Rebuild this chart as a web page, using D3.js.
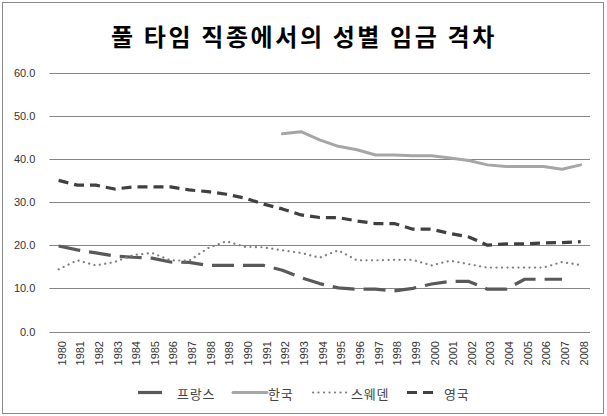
<!DOCTYPE html>
<html><head><meta charset="utf-8">
<script src="https://cdn.jsdelivr.net/npm/d3@7"></script>
<style>body{margin:0;background:#fff}svg{display:block}</style>
</head><body>
<script>
const years = d3.range(1980, 2009).map(String);
const yTicks = [0, 10, 20, 30, 40, 50, 60];
const france = [19.8,18.9,18.2,17.5,17.2,17.0,16.1,16.0,15.3,15.3,15.3,15.3,14.2,12.5,11.1,10.1,9.8,9.8,9.4,10.0,11.0,11.6,11.6,9.8,9.8,12.1,12.1,12.1,null];
const korea = [null,null,null,null,null,null,null,null,null,null,null,null,45.8,46.3,44.4,42.9,42.1,40.9,40.9,40.7,40.7,40.2,39.6,38.6,38.2,38.2,38.2,37.6,38.6];
const sweden = [14.4,16.5,15.3,16.1,17.7,18.2,16.5,16.4,19.3,20.9,19.6,19.5,18.8,18.2,17.1,18.8,16.5,16.5,16.6,16.6,15.3,16.4,15.6,14.8,14.8,14.8,14.8,16.1,15.4];
const uk = [35.0,33.9,33.9,33.0,33.5,33.5,33.5,32.8,32.4,31.8,30.9,29.5,28.4,27.0,26.4,26.4,25.6,25.0,25.0,23.7,23.7,22.7,21.9,20.0,20.3,20.3,20.5,20.6,20.8];
const seriesNames = ["프랑스", "한국", "스웨덴", "영국"];
const title = "풀 타임 직종에서의 성별 임금 격차";

const W = 607, H = 416;
const svg = d3.select("body").append("svg").attr("width", W).attr("height", H);
svg.append("rect").attr("x", 2.5).attr("y", 2.5).attr("width", 601).attr("height", 411)
  .attr("fill", "#fff").attr("stroke", "#888").attr("stroke-width", 1);

svg.append("text").attr("x", 304).attr("y", 46).attr("text-anchor", "middle")
  .attr("font-family", "Noto Sans CJK KR").attr("font-weight", "bold").attr("font-size", 24)
  .attr("letter-spacing", 2.6).attr("fill", "#000").text(title);

const x = d3.scaleBand().domain(years).range([49.3, 590]);
const y = d3.scaleLinear().domain([0, 60]).range([331.5, 72.5]);

const grid = svg.append("g");
grid.selectAll("line").data(yTicks).join("line")
  .attr("x1", 49.3).attr("x2", 590)
  .attr("y1", d => Math.round(y(d)) + 0.5).attr("y2", d => Math.round(y(d)) + 0.5)
  .attr("stroke", "#868686").attr("stroke-width", 1);

const yAxis = d3.axisLeft(y).tickValues(yTicks).tickFormat(d3.format(".1f")).tickSize(0).tickPadding(14);
const gy = svg.append("g").attr("transform", "translate(49.3,0)").call(yAxis);
gy.select(".domain").remove();
gy.selectAll("text").attr("font-family", "Liberation Sans, Arial, sans-serif").attr("font-size", 11).attr("fill", "#333");

const xAxis = d3.axisBottom(x).tickSize(0).tickPadding(0);
const gx = svg.append("g").attr("transform", "translate(0,341)").call(xAxis);
gx.select(".domain").remove();
gx.selectAll("text")
  .attr("font-family", "Liberation Sans, Arial, sans-serif").attr("font-size", 11).attr("fill", "#333")
  .attr("text-anchor", "end").attr("dy", null).attr("y", 0)
  .attr("transform", "translate(3,0) rotate(-90)").attr("dominant-baseline", "central");

const styles = [
  {data: france, color: "#595959", width: 3.2, dash: "22,9", cap: "butt"},
  {data: korea, color: "#a6a6a6", width: 3, dash: null, cap: "round"},
  {data: sweden, color: "#7f7f7f", width: 2.2, dash: "0.1,5.4", cap: "round"},
  {data: uk, color: "#404040", width: 3.2, dash: "10,6", cap: "butt"}
];
const line = d3.line().defined(d => d[1] !== null)
  .x(d => x(d[0]) + x.bandwidth() / 2).y(d => y(d[1]));
styles.forEach(s => {
  svg.append("path").datum(years.map((yr, i) => [yr, s.data[i]]))
    .attr("d", line).attr("fill", "none").attr("stroke", s.color)
    .attr("stroke-width", s.width).attr("stroke-dasharray", s.dash)
    .attr("stroke-linecap", s.cap).attr("stroke-linejoin", "round");
});

const legendItems = [
  {x1: 138, x2: 162, tx: 177},
  {x1: 233, x2: 267, tx: 268},
  {x1: 313, x2: 350, tx: 351},
  {x1: 407, x2: 438, tx: 444}
];
const lg = svg.append("g");
legendItems.forEach((it, i) => {
  const s = styles[i];
  lg.append("line").attr("x1", it.x1).attr("x2", it.x2).attr("y1", 392.5).attr("y2", 392.5)
    .attr("stroke", s.color).attr("stroke-width", s.width)
    .attr("stroke-dasharray", i === 0 ? null : s.dash).attr("stroke-linecap", s.cap);
  lg.append("text").attr("x", it.tx).attr("y", 393).attr("dominant-baseline", "central")
    .attr("font-family", "Noto Sans CJK KR").attr("font-size", 13).attr("letter-spacing", 0.8)
    .attr("fill", "#444").text(seriesNames[i]);
});
</script>
</body></html>
